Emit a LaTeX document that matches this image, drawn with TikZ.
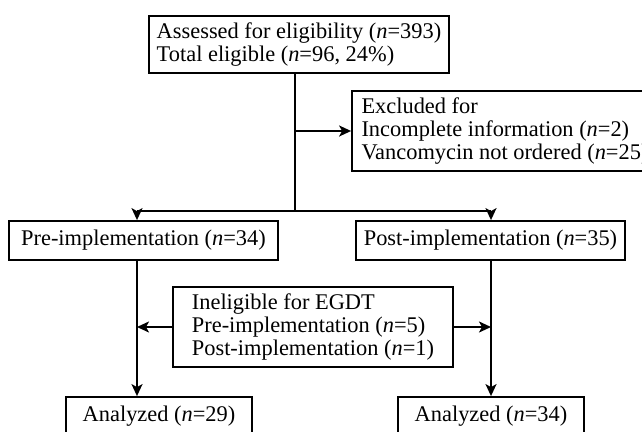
\documentclass[tikz,border=0pt]{standalone}
\usepackage{fontspec}
\setmainfont{Liberation Serif}
\usetikzlibrary{arrows.meta}
\begin{document}
\begin{tikzpicture}[x=1pt,y=-1pt,
  box/.style={draw, line width=1.8pt, inner sep=0pt, align=left,
    font=\fontsize{22.4}{23.4}\selectfont},
  conn/.style={line width=1.8pt},
  arr/.style={line width=1.8pt, -{Stealth[length=12pt,width=11pt,inset=3pt]}}]
\useasboundingbox (0,0) rectangle (642,431);
\clip (0,0) rectangle (642,431);
\node (top)  [box, minimum width=300pt, minimum height=57pt] at (299,44.5)
  {Assessed for eligibility (\textit{n}=393)\\Total eligible (\textit{n}=96, 24\%)\hspace*{0pt}\kern8pt};
\node (excl) [box, minimum width=306pt, minimum height=80pt] at (505,131)
  {Excluded for\\Incomplete information (\textit{n}=2)\\Vancomycin not ordered (\textit{n}=25)};
\node (pre)  [box, minimum width=269pt, minimum height=39pt] at (143.5,240.5)
  {Pre-implementation (\textit{n}=34)};
\node (post) [box, minimum width=269pt, minimum height=39pt] at (490.5,240.5)
  {Post-implementation (\textit{n}=35)};
\node (inel) [box, minimum width=280pt, minimum height=80pt] at (313,327)
  {Ineligible for EGDT\\Pre-implementation (\textit{n}=5)\\Post-implementation (\textit{n}=1)};
\node (an1)  [box, minimum width=186pt, minimum height=39pt] at (159,416.5)
  {Analyzed (\textit{n}=29)};
\node (an2)  [box, minimum width=186pt, minimum height=39pt] at (491,416.5)
  {Analyzed (\textit{n}=34)};
\coordinate (j1) at (295,131);
\coordinate (split) at (295,211);
\coordinate (ls) at (137,211);
\coordinate (rs) at (491,211);
\draw[conn] (top.south -| j1) -- (split);
\draw[arr] (j1) -- (excl.west);
\draw[conn] (ls) -- (rs);
\draw[arr] (ls) -- (pre.north -| ls);
\draw[arr] (rs) -- (post.north -| rs);
\draw[arr] (pre.south -| ls) -- (an1.north -| ls);
\draw[arr] (post.south -| rs) -- (an2.north -| rs);
\draw[arr] (inel.west) -- (inel.west -| ls);
\draw[arr] (inel.east) -- (inel.east -| rs);
\end{tikzpicture}
\end{document}
